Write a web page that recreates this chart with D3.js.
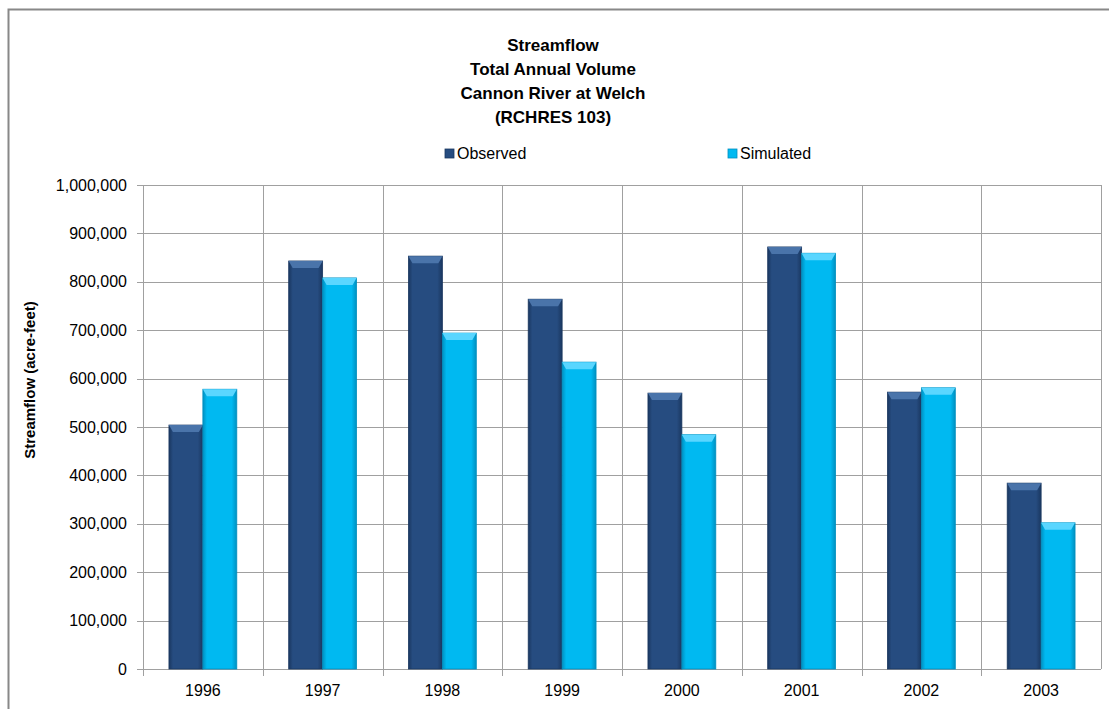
<!DOCTYPE html>
<html><head><meta charset="utf-8">
<script src="https://cdn.jsdelivr.net/npm/d3@7"></script>
<style>body{margin:0;background:#fff}svg{display:block}</style>
</head><body>
<script>
const years = ["1996","1997","1998","1999","2000","2001","2002","2003"];
const observed = [504000, 843000, 853000, 764000, 570000, 872000, 572000, 384000];
const simulated = [578000, 808000, 694000, 634000, 484000, 859000, 581000, 302000];
const yTicks = [0,100000,200000,300000,400000,500000,600000,700000,800000,900000,1000000];
const seriesNames = ["Observed","Simulated"];
const titleLines = ["Streamflow","Total Annual Volume","Cannon River at Welch","(RCHRES 103)"];

const W=1109,H=709;
const font = "'Liberation Sans Narrow','Arial Narrow','Liberation Sans',Arial,sans-serif";
const svg = d3.select("body").append("svg").attr("width",W).attr("height",H);
const defs = svg.append("defs");
const colors = {Observed:"#264C80", Simulated:"#00B9F1"};
const dark = {Observed:"#1A3760", Simulated:"#0090C0"};
const light = {Observed:"#4A74AA", Simulated:"#5AD6FF"};
seriesNames.forEach(s=>{
  const g = defs.append("linearGradient").attr("id","g"+s).attr("x1","0").attr("x2","1").attr("y1","0").attr("y2","0");
  g.append("stop").attr("offset","0").attr("stop-color",dark[s]);
  g.append("stop").attr("offset","0.12").attr("stop-color",colors[s]);
  g.append("stop").attr("offset","0.85").attr("stop-color",colors[s]);
  g.append("stop").attr("offset","1").attr("stop-color",dark[s]);
});

// outer border
svg.append("path").attr("d","M8.5,709 V9.5 H1109").attr("fill","none").attr("stroke","#888").attr("stroke-width",2);

const x0 = d3.scaleBand().domain(years).range([143,1101]);
const x1 = d3.scaleBand().domain(seriesNames).range([0,x0.bandwidth()]).paddingInner(0).paddingOuter(0.765);
const y = d3.scaleLinear().domain([0,1000000]).range([669,185]);

// gridlines
svg.append("g").selectAll("line").data(yTicks).join("line")
  .attr("x1",137).attr("x2",1101).attr("y1",d=>Math.round(y(d))+0.5).attr("y2",d=>Math.round(y(d))+0.5)
  .attr("stroke","#a0a0a0").attr("stroke-width",1);
const vlines = years.map(d=>x0(d)).concat([1101]);
svg.append("g").selectAll("line").data(vlines).join("line")
  .attr("x1",d=>Math.round(d)+0.5).attr("x2",d=>Math.round(d)+0.5)
  .attr("y1",185).attr("y2",(d,i)=> i===vlines.length-1?669:676)
  .attr("stroke","#a0a0a0").attr("stroke-width",1);

// y labels
svg.append("g").selectAll("text").data(yTicks).join("text")
  .attr("x",127).attr("y",d=>y(d)).attr("dy","0.35em").attr("text-anchor","end")
  .attr("font-family",font).attr("font-size",16).attr("fill","#000")
  .text(d=>d3.format(",")(d));

// x labels
svg.append("g").selectAll("text").data(years).join("text")
  .attr("x",d=>x0(d)+x0.bandwidth()/2).attr("y",696).attr("text-anchor","middle")
  .attr("font-family",font).attr("font-size",16).attr("fill","#000").text(d=>d);

// bars
const data = years.map((yr,i)=>({yr, vals:[{s:"Observed",v:observed[i]},{s:"Simulated",v:simulated[i]}]}));
const grp = svg.append("g").selectAll("g").data(data).join("g").attr("transform",d=>`translate(${x0(d.yr)},0)`);
grp.each(function(d){
  const g = d3.select(this);
  d.vals.forEach(e=>{
    const bx = x1(e.s), bw = x1.bandwidth(), by = y(e.v), bh = y(0)-y(e.v);
    g.append("rect").attr("x",bx).attr("y",by).attr("width",bw).attr("height",bh)
      .attr("fill",`url(#g${e.s})`).attr("stroke",dark[e.s]).attr("stroke-width",0.8);
    const bev = 7;
    g.append("path").attr("d",`M${bx},${by} H${bx+bw} L${bx+bw-4},${by+bev} H${bx+4} Z`)
      .attr("fill",light[e.s]);
  });
});

// title
svg.append("g").selectAll("text").data(titleLines).join("text")
  .attr("x",553).attr("y",(d,i)=>51+i*24).attr("text-anchor","middle")
  .attr("font-family",font).attr("font-weight","bold").attr("font-size",17).attr("fill","#000").text(d=>d);

// legend
const legX = {Observed:445, Simulated:728};
seriesNames.forEach(s=>{
  svg.append("rect").attr("x",legX[s]).attr("y",149).attr("width",9).attr("height",9)
    .attr("fill",colors[s]).attr("stroke",dark[s]).attr("stroke-width",0.8);
  svg.append("text").attr("x",legX[s]+12).attr("y",159).attr("font-family",font).attr("font-size",16)
    .attr("fill","#000").text(s);
});

// y title
svg.append("text").attr("transform","translate(35,380) rotate(-90)").attr("text-anchor","middle")
  .attr("font-family",font).attr("font-weight","bold").attr("font-size",15).attr("fill","#000")
  .text("Streamflow (acre-feet)");
</script>
</body></html>
